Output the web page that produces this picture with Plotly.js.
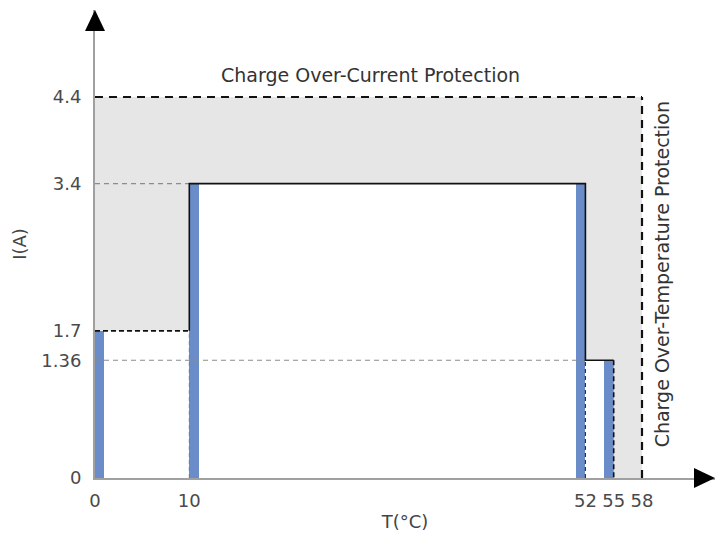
<!DOCTYPE html>
<html>
<head>
<meta charset="utf-8">
<script src="https://cdn.plot.ly/plotly-3.0.1.min.js"></script>
<style>html,body{margin:0;padding:0;background:#fff;}#chart{width:716px;height:540px;}</style>
</head>
<body>
<div id="chart"></div>
<script>
// Temperature breakpoints (°C) and charge current limits (A)
const stepT = [0, 10, 52, 55, 58];        // segment boundaries
const stepI = [1.7, 3.4, 1.36, 0];        // current limit in each segment
const overCurrent = 4.4;                  // charge over-current protection (A)
const overTemp = 58;                      // charge over-temperature protection (°C)
// blue bars at the breakpoints
const barT = [0, 10, 52, 55];
const barI = [1.7, 3.4, 3.4, 1.36];
const barOffset = [0, 0, -1, -1];
const xTickVals = [0, 10, 52, 55, 58];
const yTickVals = [0, 1.36, 1.7, 3.4, 4.4];
const yTickText = ['0', '1.36', '1.7', '3.4', '4.4'];

const font = 'DejaVu Sans, Verdana, sans-serif';
const blue = '#6a8cc8';

// gray protection area polygon (outside the allowed step region)
const polyX = [0, 0, overTemp, overTemp];
const polyY = [stepI[0], overCurrent, overCurrent, 0];
for (let k = stepI.length - 1; k >= 0; k--) {
  polyX.push(stepT[k + 1], stepT[k]);
  polyY.push(stepI[k], stepI[k]);
}

const traces = [
  {type:'scatter', mode:'lines', x: polyX, y: polyY, fill:'toself', fillcolor:'#e6e6e6',
   line:{width:0}, hoverinfo:'skip', showlegend:false},
  {type:'bar', x: barT, y: barI, width: 1, offset: barOffset, marker:{color: blue, line:{width:0}},
   showlegend:false, hoverinfo:'skip'},
  // gray dashed guide lines
  {type:'scatter', mode:'lines', x:[0, stepT[1]], y:[stepI[1], stepI[1]], line:{color:'#8c8c8c', width:1.2, dash:'5px,4px'}, showlegend:false, cliponaxis:false},
  {type:'scatter', mode:'lines', x:[0, stepT[2]], y:[stepI[2], stepI[2]], line:{color:'#8c8c8c', width:1.2, dash:'5px,4px'}, showlegend:false, cliponaxis:false},
  {type:'scatter', mode:'lines', x:[stepT[1], stepT[1]], y:[0, stepI[0]], line:{color:'#6c7ea0', width:1, dash:'4px,3px'}, showlegend:false},
  {type:'scatter', mode:'lines', x:[stepT[2], stepT[2]], y:[0, stepI[2]], line:{color:'#333', width:1.2, dash:'4px,3px'}, showlegend:false},
  // step limit line
  {type:'scatter', mode:'lines', x:[0, stepT[1]], y:[stepI[0], stepI[0]], line:{color:'#111', width:1.8, dash:'5px,3px'}, showlegend:false, cliponaxis:false},
  {type:'scatter', mode:'lines', x:[stepT[1], stepT[1], stepT[2], stepT[2], stepT[3]], y:[stepI[0], stepI[1], stepI[1], stepI[2], stepI[2]],
   line:{color:'#111', width:1.6}, showlegend:false},
  {type:'scatter', mode:'lines', x:[stepT[3], stepT[3]], y:[stepI[2], 0], line:{color:'#111', width:1.6, dash:'5px,3px'}, showlegend:false},
  // protection limits
  {type:'scatter', mode:'lines', x:[0, overTemp], y:[overCurrent, overCurrent], line:{color:'#111', width:2.2, dash:'8px,6px'}, showlegend:false, cliponaxis:false},
  {type:'scatter', mode:'lines', x:[overTemp, overTemp], y:[0, overCurrent], line:{color:'#111', width:2.2, dash:'8px,6px'}, showlegend:false, cliponaxis:false}
];

const layout = {
  width: 716, height: 540,
  margin: {l: 95, r: 1, t: 10, b: 62},
  paper_bgcolor: '#fff', plot_bgcolor: '#fff',
  font: {family: font, size: 18, color: '#444'},
  showlegend: false,
  bargap: 0,
  xaxis: {
    range: [0, 65.74], showgrid: false, zeroline: false,
    showline: true, linecolor: '#a0a0a0', linewidth: 2,
    tickmode: 'array', tickvals: xTickVals, ticks: '', ticklabelstandoff: 5,
    tickfont: {family: font, size: 18, color: '#4a4a4a'},
    title: {text: 'T(°C)', font: {family: font, size: 18, color: '#444'}, standoff: 6}
  },
  yaxis: {
    range: [0, 5.405], showgrid: false, zeroline: false,
    showline: true, linecolor: '#a0a0a0', linewidth: 2,
    tickmode: 'array', tickvals: yTickVals, ticktext: yTickText, ticks: '', ticklabelstandoff: 8,
    tickfont: {family: font, size: 18, color: '#4a4a4a'},
    title: {text: 'I(A)', font: {family: font, size: 18, color: '#444'}, standoff: 10}
  },
  shapes: [
    {type:'path', xref:'paper', yref:'paper', xsizemode:'pixel', ysizemode:'pixel', xanchor:0, yanchor:1,
     path:'M 0 0 L -10 -21 L 10 -21 Z', fillcolor:'#000', line:{width:0}},
    {type:'path', xref:'paper', yref:'paper', xsizemode:'pixel', ysizemode:'pixel', xanchor:1, yanchor:0,
     path:'M 0 0 L -21 10 L -21 -10 Z', fillcolor:'#000', line:{width:0}}
  ],
  annotations: [
    {x: 29.2, y: 4.65, xref:'x', yref:'y', text:'Charge Over-Current Protection', showarrow:false,
     font:{family: font, size: 19, color:'#333'}},
    {x: 60.1, y: 2.35, xref:'x', yref:'y', text:'Charge Over-Temperature Protection', showarrow:false,
     textangle:-90, font:{family: font, size: 19, color:'#333'}}
  ]
};

Plotly.newPlot('chart', traces, layout, {displayModeBar:false, staticPlot:true});
</script>
</body>
</html>
